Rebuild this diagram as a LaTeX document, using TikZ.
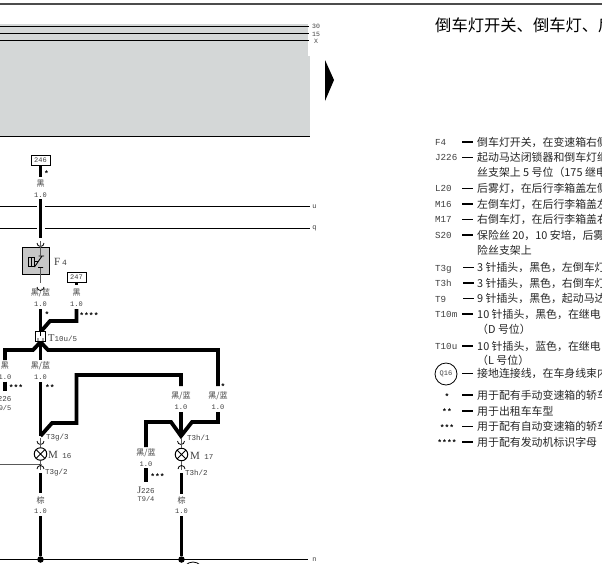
\documentclass[tikz,border=0pt]{standalone}
\usepackage{fontspec}
\setmainfont{Liberation Serif}
\newfontfamily\cjk{Noto Sans CJK SC}
\newfontfamily\lat{Liberation Mono}
\definecolor{panelgray}{HTML}{D4D7D7}
\definecolor{inkgray}{HTML}{404040}
\tikzset{
  wire/.style={line width=3.8pt,line join=miter,draw=black},
  bus/.style={line width=1pt,draw=black},
  thinw/.style={line width=1pt,draw=black!65},
  lab/.style={inner sep=0pt,text=inkgray,font=\lat\fontsize{7}{8}\selectfont},
  wirename/.style={inner sep=0pt,text=inkgray,font=\cjk\fontsize{8}{9}\selectfont},
  gauge/.style={inner sep=0pt,text=inkgray,font=\lat\fontsize{7}{8}\selectfont},
  star/.style={inner sep=0pt,font=\lat\bfseries\fontsize{8}{8}\selectfont},
  partlab/.style={inner sep=0pt,anchor=west,text=inkgray,font=\fontsize{10}{11}\selectfont},
  pinlab/.style={inner sep=0pt,anchor=west,text=inkgray,font=\lat\fontsize{7.5}{8}\selectfont},
  term/.style={draw=black,line width=.8pt,fill=white,minimum width=19pt,minimum height=10pt,inner sep=0pt,text=inkgray,font=\lat\fontsize{7}{8}\selectfont},
  lamp/.style={circle,draw=black,line width=1pt,minimum size=12.5pt,inner sep=0pt,fill=white,path picture={\draw[line width=.9pt] (path picture bounding box.south west)--(path picture bounding box.north east) (path picture bounding box.north west)--(path picture bounding box.south east);}},
  key/.style={inner sep=0pt,anchor=base west,text=inkgray,font=\lat\fontsize{9.2}{10}\selectfont},
  desc/.style={inner sep=0pt,anchor=base west,text=black!85,font=\cjk\fontsize{10.9}{12}\selectfont},
  dashmark/.style={line width=1.1pt,draw=black},
  pin/.style={line width=.8pt,draw=black},
  jdot/.style={circle,fill=black,inner sep=0pt,minimum size=6.5pt},
}
\newcommand{\descline}[4]{%
  \node[desc] (#1) at (#2,#3) {#4};}
\begin{document}
\begin{tikzpicture}[x=1pt,y=-1pt]
\useasboundingbox (0,0) rectangle (602,563);
\clip (0,0) rectangle (602,563);
\fill[white] (0,0) rectangle (602,563);
% frame
\coordinate (tl) at (0,4); \coordinate (tr) at (602,4);
\draw[line width=1.2pt,draw=black!70] (tl)--(tr);
% panel
\fill[panelgray] (0,24) rectangle (308,56);
\fill[panelgray] (0,56) rectangle (310,136);
\coordinate (b30a) at (0,26); \coordinate (b30b) at (309,26);
\coordinate (b15a) at (0,33); \coordinate (b15b) at (309,33);
\coordinate (bXa) at (0,40.5); \coordinate (bXb) at (309,40.5);
\draw[bus,line width=.8pt] (b30a)--(b30b);
\draw[bus,line width=.8pt] (b15a)--(b15b);
\draw[bus,line width=.8pt] (bXa)--(bXb);
\node[lab,font=\lat\fontsize{6.5}{7}\selectfont] (l30) at (316,26.5) {30};
\node[lab,font=\lat\fontsize{6.5}{7}\selectfont] (l15) at (316,34) {15};
\node[lab,font=\lat\fontsize{6.5}{7}\selectfont] (lX) at (316,41.5) {X};
\fill[black] (325,60)--(334,80)--(325,101)--cycle;
\fill[black] (0,135.6) rectangle (310,137);
% horizontal buses
\coordinate (ua) at (0,206.5); \coordinate (ub) at (37,206.5); \coordinate (uc) at (45,206.5); \coordinate (ud) at (310,206.5);
\coordinate (qa) at (0,228); \coordinate (qb) at (37,228); \coordinate (qc) at (45,228); \coordinate (qd) at (310,228);
\draw[bus] (ua)--(ub); \draw[bus] (uc)--(ud);
\draw[bus] (qa)--(qb); \draw[bus] (qc)--(qd);
\node[lab] (lu) at (314.5,206.5) {u};
\node[lab] (lq) at (314.5,228) {q};
\coordinate (na) at (0,559.5); \coordinate (nb) at (308,559.5);
\draw[bus] (na)--(nb);
\node[lab] (ln) at (314.5,559.5) {n};
% F4 branch
\node[term] (t246) at (40.5,160.5) {246};
\coordinate (w1) at (40.5,177); \coordinate (w2) at (40.5,199); \coordinate (w3) at (40.5,238);
\draw[wire] (t246.south)--(w1);
\draw[wire] (w2)--(w3);
\node[star] (s1) at (46.5,173.5) {*};
\node[wirename] (n1) at (40.5,184) {黑};
\node[gauge] (g1) at (40.5,195) {1.0};
\draw[pin] (37,243) arc[start angle=180,end angle=0,radius=3.5];
\node[draw=black,line width=.9pt,fill=black!22,minimum size=27pt,inner sep=0pt] (f4) at (36,261) {};
\coordinate (p1) at (40.5,241);
\draw[thinw] (p1)--(f4.north -| p1);
\coordinate (p2) at (40.5,283);
\draw[thinw] (f4.south -| p2)--(p2);
\draw[pin] (28,257) rectangle (34,266) (31,257)--(31,266) (34,261.5)--(38,261.5);
\draw[pin,line width=.9pt] (34.5,267)--(42,256) (38.5,256)--(44,256) (38,267.5)--(43,267.5);
\draw[thinw] (40.5,247)--(40.5,256) (40.5,267.5)--(40.5,275);
\node[partlab,font=\fontsize{11}{12}\selectfont] (lf4) at (54,262) {F\,\lat\fontsize{8}{9}\selectfont 4};
\draw[pin] (37,287) arc[start angle=180,end angle=0,radius=3.5];
\node[wirename] (n2) at (40.5,293) {黑/蓝};
\node[gauge] (g2) at (40.5,304.5) {1.0};
\node[term] (t247) at (76.5,277) {247};
\node[wirename] (n3) at (76.5,293) {黑};
\node[gauge] (g3) at (76.5,304.5) {1.0};
\coordinate (w4) at (76.5,282); \coordinate (w4b) at (76.5,285);
\draw[wire] (t247.south)--(w4b);
\coordinate (w5) at (76.5,309); \coordinate (w6) at (76.5,321); \coordinate (w7) at (50,321); \coordinate (w8) at (40.5,332);
\draw[wire] (w5)--(w6)--(w7)--(w8);
\coordinate (w9) at (40.5,309);
\draw[wire] (w9)--(w8);
\node[star] (s2) at (47,315) {*};
\node[star] (s3) at (89,315.5) {****};
\node[draw=black,line width=.9pt,fill=white,minimum width=9.5pt,minimum height=10pt,inner sep=0pt] (t10u) at (40.5,336.5) {};
\draw[pin] (38,341) arc[start angle=180,end angle=0,radius=2.5] (38,341)--(38,338) (43,341)--(43,338);
\draw[thinw,draw=black] (40.5,332)--(40.5,336);
\node[partlab,font=\fontsize{10.5}{11}\selectfont] (lt10u) at (48,338.5) {T\lat\fontsize{7.5}{8}\selectfont 10u/5};
% split under T10u
\coordinate (j0) at (40.5,342);
\coordinate (l1) at (33,350); \coordinate (l2) at (5,350); \coordinate (l3) at (5,360);
\coordinate (r1) at (48,350); \coordinate (r2) at (218,350); \coordinate (r3) at (218,386);
\coordinate (c1) at (40.5,360);
\draw[wire] (j0)--(l1)--(l2)--(l3);
\draw[wire] (j0)--(r1)--(r2)--(r3);
\draw[wire] (j0)--(c1);
\node[wirename] (n4) at (5,366) {黑};
\node[gauge] (g4) at (5,377) {1.0};
\coordinate (l4) at (5,381.5); \coordinate (l5) at (5,391);
\draw[wire] (l4)--(l5);
\node[star] (s4) at (16,388) {***};
\node[inner sep=0pt,text=inkgray,font=\fontsize{9}{10}\selectfont] (lj1) at (3,398.5) {J\lat\fontsize{7.5}{8}\selectfont 226};
\node[lab] (lj2) at (3,408) {T9/5};
\node[wirename] (n5) at (40.5,366) {黑/蓝};
\node[gauge] (g5) at (40.5,377) {1.0};
\coordinate (c2) at (40.5,382); \coordinate (c3) at (40.5,436);
\draw[wire] (c2)--(c3);
\node[star] (s5) at (50,388) {**};
\coordinate (m1) at (181,375); \coordinate (m2) at (181,386); \coordinate (m3) at (76.5,375); \coordinate (m4) at (76.5,423); \coordinate (m5) at (52,423);
\draw[wire] (m2)--(m1)--(m3)--(m4)--(m5)--(c3);
% M16
\draw[pin] (37,441) arc[start angle=180,end angle=0,radius=3.5];
\node[pinlab] (lt3g3) at (46,438) {T3g/3};
\node[lamp] (m16) at (40.5,454) {};
\draw[thinw] (40.5,438)--(m16.north);
\coordinate (h1) at (0,464.5); \coordinate (h2) at (40.5,464.5);
\draw[thinw] (h1)--(h2);
\fill[black] (h2) circle (1.2);
\draw[thinw] (m16.south)--(40.5,470);
\draw[pin] (37,469) arc[start angle=180,end angle=360,radius=3.5];
\node[partlab,font=\fontsize{11}{12}\selectfont] (lm16) at (48,455) {M\lat\fontsize{7.5}{8}\selectfont\ 16};
\node[pinlab] (lt3g2) at (45,473) {T3g/2};
\coordinate (b1) at (40.5,473); \coordinate (b2) at (40.5,493); \coordinate (b3) at (40.5,516);
\node[jdot] (d1) at (40.5,559.5) {};
\draw[wire] (b1)--(b2);
\draw[wire] (b3)--(d1);
\node[wirename] (n6) at (40.5,500) {棕};
\node[gauge] (g6) at (40.5,511) {1.0};
% right group
\node[star] (s6) at (223,387) {*};
\node[wirename] (n7) at (218,396) {黑/蓝};
\node[gauge] (g7) at (218,407) {1.0};
\node[wirename] (n8) at (181,396) {黑/蓝};
\node[gauge] (g8) at (181,407) {1.0};
\coordinate (q1) at (218,412); \coordinate (q2) at (218,422); \coordinate (q3) at (192,422); \coordinate (q4) at (181,436);
\coordinate (q5) at (171,422); \coordinate (q6) at (146,422); \coordinate (q7) at (146,447); \coordinate (q8) at (181,412);
\draw[wire] (q1)--(q2)--(q3)--(q4)--(q5)--(q6)--(q7);
\draw[wire] (q8)--(q4);
\node[wirename] (n9) at (146,453) {黑/蓝};
\node[gauge] (g9) at (146,464) {1.0};
\coordinate (q9) at (146,468); \coordinate (q10) at (146,482);
\draw[wire] (q9)--(q10);
\node[star] (s7) at (157.5,476.5) {***};
\node[inner sep=0pt,text=inkgray,font=\fontsize{10}{11}\selectfont] (lj3) at (146,490) {J\lat\fontsize{7.5}{8}\selectfont 226};
\node[lab] (lj4) at (146,499) {T9/4};
\draw[pin] (177.5,441) arc[start angle=180,end angle=0,radius=3.5];
\node[pinlab] (lt3h1) at (187,437.5) {T3h/1};
\node[lamp] (m17) at (181.5,454.5) {};
\draw[thinw] (181.5,438)--(m17.north);
\draw[thinw] (m17.south)--(181.5,470);
\draw[pin] (178,469) arc[start angle=180,end angle=360,radius=3.5];
\node[partlab,font=\fontsize{11}{12}\selectfont] (lm17) at (190,456) {M\lat\fontsize{7.5}{8}\selectfont\ 17};
\node[pinlab] (lt3h2) at (185,473) {T3h/2};
\coordinate (e1) at (181.5,473); \coordinate (e2) at (181.5,493.5); \coordinate (e3) at (181.5,516);
\node[jdot] (d2) at (181.5,559.5) {};
\draw[wire] (e1)--(e2);
\draw[wire] (e3)--(d2);
\node[wirename] (n10) at (181.5,500) {棕};
\node[gauge] (g10) at (181.5,511) {1.0};
\node[circle,draw=black,line width=.8pt,minimum size=20pt,inner sep=0pt] (q16b) at (193,572) {};
% title and right legend
\node[inner sep=0pt,anchor=base west,font=\cjk\fontsize{16.3}{18}\selectfont] (title) at (435,31) {倒车灯开关、倒车灯、后};
\foreach \nm/\yy/\tx in {F4/145/F4,J/160.5/J226,L/191.5/L20,Ma/207/M16,Mb/222.5/M17,S/238/S20,Ta/271/T3g,Tb/286.5/T3h,Tc/302/T9,Td/317.5/T10m,Te/349.5/T10u}{
  \node[key] (k\nm) at (435,\yy) {\tx};
}
\foreach \nm/\yy/\xa in {F4/142/462,J/157.5/462,L/188.5/462,Ma/204/462,Mb/219.5/462,S/235/462,Ta/267.5/463,Tb/283/463,Tc/298.5/463,Td/314/462,Te/346/462,Q/373.5/462,Sa/395/462,Sb/411/462,Sc/426.5/462,Sd/442/462}{
  \coordinate (da\nm) at (\xa,\yy); \coordinate (db\nm) at (\xa+11,\yy);
  \draw[dashmark] (da\nm)--(db\nm);
}
\descline{d1a}{477}{146}{倒车灯开关，在变速箱右侧}
\descline{d2a}{477}{161.5}{起动马达闭锁器和倒车灯继}
\descline{d2b}{477}{176.5}{丝支架上 5 号位（175 继电}
\descline{d3a}{477}{192.5}{后雾灯，在后行李箱盖左侧}
\descline{d4a}{477}{208}{左倒车灯，在后行李箱盖左}
\descline{d5a}{477}{223.5}{右倒车灯，在后行李箱盖右}
\descline{d6a}{477}{239}{保险丝 20，10 安培，后雾}
\descline{d6b}{477}{254}{险丝支架上}
\descline{d7a}{477}{271.5}{3 针插头，黑色，左倒车灯}
\descline{d8a}{477}{287}{3 针插头，黑色，右倒车灯}
\descline{d9a}{477}{302.5}{9 针插头，黑色，起动马达}
\descline{d10a}{477}{318}{10 针插头，黑色，在继电}
\descline{d10b}{477}{333}{（D 号位）}
\descline{d11a}{477}{350}{10 针插头，蓝色，在继电}
\descline{d11b}{477}{364.5}{（L 号位）}
\descline{d12a}{477}{377.5}{接地连接线，在车身线束内}
\descline{d13a}{477}{399}{用于配有手动变速箱的轿车}
\descline{d14a}{477}{415}{用于出租车车型}
\descline{d15a}{477}{430.5}{用于配有自动变速箱的轿车}
\descline{d16a}{477}{446}{用于配有发动机标识字母}
\node[circle,draw=black,line width=.8pt,minimum size=22pt,inner sep=0pt,text=inkgray,font=\lat\fontsize{7}{8}\selectfont] (q16a) at (446,374) {Q16};
\node[star,anchor=center] (ks1) at (447,396.5) {*};
\node[star,anchor=center] (ks2) at (447,412) {**};
\node[star,anchor=center] (ks3) at (447,427.5) {***};
\node[star,anchor=center] (ks4) at (447,443) {****};
\end{tikzpicture}
\end{document}
